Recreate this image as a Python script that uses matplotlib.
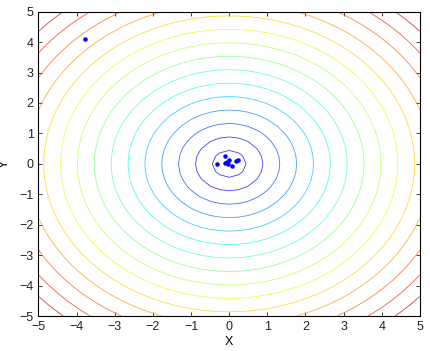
import numpy as np
import matplotlib
matplotlib.use("Agg")
import matplotlib.pyplot as plt

# Grid of the surface (radial distance from origin) on [-5, 5]
grid_x = np.arange(-5, 5.01, 0.25)
grid_y = np.arange(-5, 5.01, 0.25)
n_levels = 15

# Sample points
pts_x = [-0.32, -0.11, 0.22, 0.08, -0.07, -0.02, 0.0, -0.11, 0.17, -3.78]
pts_y = [-0.01, 0.27, 0.12, -0.08, 0.07, 0.0, 0.13, 0.03, 0.09, 4.10]

ticks = [-5, -4, -3, -2, -1, 0, 1, 2, 3, 4, 5]

plt.rcParams["font.family"] = ["Liberation Sans", "DejaVu Sans"]

X, Y = np.meshgrid(grid_x, grid_y)
Z = np.sqrt(X**2 + Y**2)
zmin, zmax = Z.min(), Z.max()
levels = np.linspace(zmin, zmax, n_levels + 2)[1:-1]

fig = plt.figure(figsize=(4.30, 3.51), dpi=100)
ax = fig.add_axes([0.0895, 0.0997, 0.887, 0.867])

ax.contour(X, Y, Z, levels=levels, cmap="jet", vmin=zmin, vmax=zmax,
           linewidths=0.6, alpha=0.75)
ax.plot(pts_x, pts_y, ".", color="#0000ff", markersize=4.5)

ax.set_xlim(-5, 5)
ax.set_ylim(-5, 5)
ax.set_xticks(ticks)
ax.set_yticks(ticks)
ax.tick_params(direction="in", length=3, width=0.6, top=True, right=True,
               labelsize=9, colors="#222222")
for s in ax.spines.values():
    s.set_linewidth(0.8)
ax.set_xlabel("X", fontsize=9, labelpad=2)
ax.set_ylabel("Y", fontsize=9)
ax.yaxis.set_label_coords(-0.072, 0.5)

fig.savefig("out.png", dpi=100)
